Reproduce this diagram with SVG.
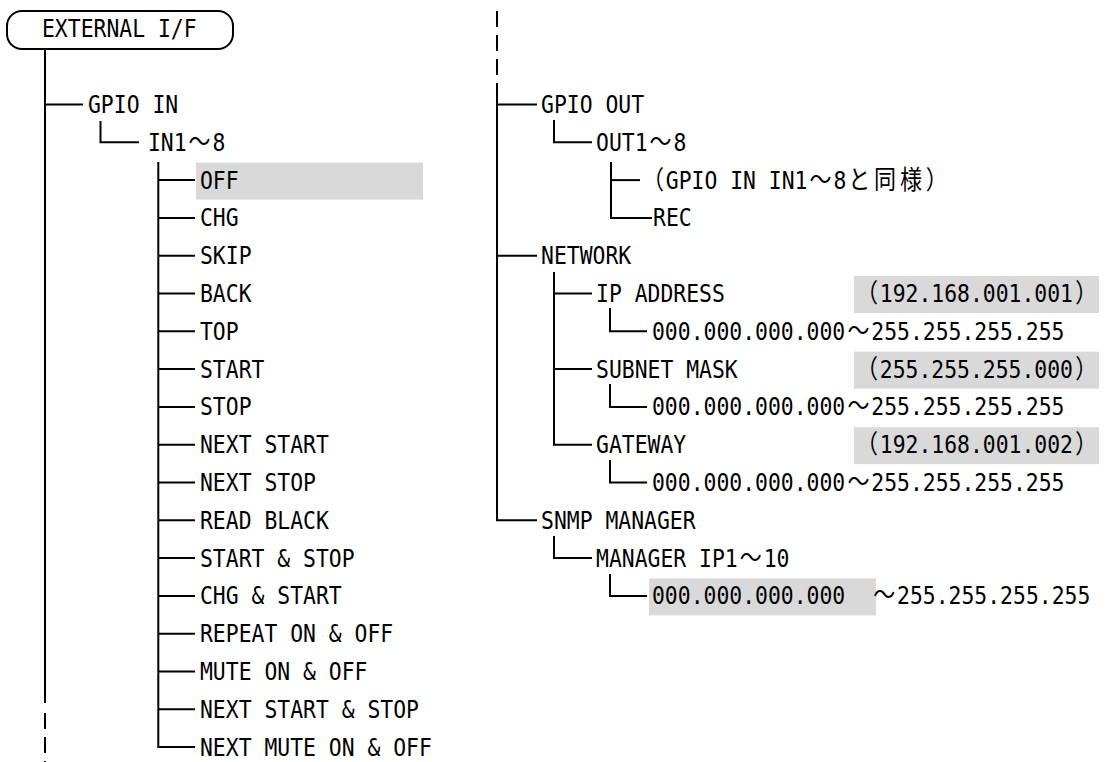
<svg xmlns="http://www.w3.org/2000/svg" width="1110" height="762" viewBox="0 0 1110 762">
<style>
.t{font-family:"DejaVu Sans Mono","Liberation Mono",monospace;font-size:21.4px;fill:#000}
.j{font-family:"Noto Sans CJK JP","Noto Sans CJK SC",sans-serif;font-size:22px}
.hl{fill:#d9d9d9}
.ln{stroke:#000;stroke-width:2;fill:none;stroke-linecap:butt;stroke-linejoin:miter}
.dash{stroke-dasharray:16 8}
.box{fill:#fff;stroke:#000;stroke-width:2}
</style>
<rect width="1110" height="762" fill="#fff"/>
<g id="connectors">
<path class="ln" d="M45 49V703"/>
<path class="ln dash" d="M45 713V762"/>
<path class="ln" d="M45 104.5H83"/>
<path class="ln" d="M100.5 121V142.3H139"/>
<path class="ln" d="M158.3 162V747.1H195"/>
<path class="ln" d="M158.3 180.1H195M158.3 217.9H195M158.3 255.7H195M158.3 293.5H195M158.3 331.3H195M158.3 369.1H195M158.3 406.9H195M158.3 444.7H195M158.3 482.5H195M158.3 520.3H195M158.3 558.1H195M158.3 595.9H195M158.3 633.7H195M158.3 671.5H195M158.3 709.3H195"/>
<path class="ln dash" d="M497 11V75"/>
<path class="ln" d="M497 83V520.3H537"/>
<path class="ln" d="M497 104.5H537M497 255.7H537"/>
<path class="ln" d="M554 120V142.3H592"/>
<path class="ln" d="M611 162V217.9H652"/>
<path class="ln" d="M611 180.1H640"/>
<path class="ln" d="M554 272V444.7H592"/>
<path class="ln" d="M554 293.5H592M554 369.1H592"/>
<path class="ln" d="M610 308V331.3H647"/>
<path class="ln" d="M610 384V406.9H647"/>
<path class="ln" d="M610 460V482.5H647"/>
<path class="ln" d="M554 536V558.1H592"/>
<path class="ln" d="M610 574V595.9H647"/>
</g>
<g id="external-if">
<rect class="box" x="7" y="11" width="226" height="38" rx="15"/>
<text class="t" x="42" transform="translate(0 37) scale(1 1.17)">EXTERNAL I/F</text>
</g>
<g id="gpio-in"><text class="t" x="88" transform="translate(0 113) scale(1 1.17)">GPIO IN</text></g>
<g id="in1-8"><text class="t" transform="translate(0 150.8) scale(1 1.17)"><tspan x="148">IN1</tspan><tspan class="j" x="188.6">～</tspan><tspan x="212.5">8</tspan></text></g>
<g id="off"><rect class="hl" x="196" y="162.6" width="227" height="37"/><text class="t" x="200" transform="translate(0 188.6) scale(1 1.17)">OFF</text></g>
<g id="chg"><text class="t" x="200" transform="translate(0 226.4) scale(1 1.17)">CHG</text></g>
<g id="skip"><text class="t" x="200" transform="translate(0 264.2) scale(1 1.17)">SKIP</text></g>
<g id="back"><text class="t" x="200" transform="translate(0 302) scale(1 1.17)">BACK</text></g>
<g id="top"><text class="t" x="200" transform="translate(0 339.8) scale(1 1.17)">TOP</text></g>
<g id="start"><text class="t" x="200" transform="translate(0 377.6) scale(1 1.17)">START</text></g>
<g id="stop"><text class="t" x="200" transform="translate(0 415.4) scale(1 1.17)">STOP</text></g>
<g id="next-start"><text class="t" x="200" transform="translate(0 453.2) scale(1 1.17)">NEXT START</text></g>
<g id="next-stop"><text class="t" x="200" transform="translate(0 491) scale(1 1.17)">NEXT STOP</text></g>
<g id="read-black"><text class="t" x="200" transform="translate(0 528.8) scale(1 1.17)">READ BLACK</text></g>
<g id="start-stop"><text class="t" x="200" transform="translate(0 566.6) scale(1 1.17)">START &amp; STOP</text></g>
<g id="chg-start"><text class="t" x="200" transform="translate(0 604.4) scale(1 1.17)">CHG &amp; START</text></g>
<g id="repeat"><text class="t" x="200" transform="translate(0 642.2) scale(1 1.17)">REPEAT ON &amp; OFF</text></g>
<g id="mute"><text class="t" x="200" transform="translate(0 680) scale(1 1.17)">MUTE ON &amp; OFF</text></g>
<g id="next-start-stop"><text class="t" x="200" transform="translate(0 717.8) scale(1 1.17)">NEXT START &amp; STOP</text></g>
<g id="next-mute"><text class="t" x="200" transform="translate(0 755.6) scale(1 1.17)">NEXT MUTE ON &amp; OFF</text></g>
<g id="gpio-out"><text class="t" x="541" transform="translate(0 113) scale(1 1.17)">GPIO OUT</text></g>
<g id="out1-8"><text class="t" transform="translate(0 150.8) scale(1 1.17)"><tspan x="596">OUT1</tspan><tspan class="j" x="649.5">～</tspan><tspan x="673.4">8</tspan></text></g>
<g id="same-as-in"><text class="t" transform="translate(0 188.6) scale(1 1.17)"><tspan class="j" x="641.9">（</tspan><tspan x="665.8">GPIO IN IN1</tspan><tspan class="j" x="809.6">～</tspan><tspan x="833.5">8</tspan><tspan class="j" x="848.3">と</tspan><tspan class="j" x="874.1">同</tspan><tspan class="j" x="899.9">様</tspan><tspan class="j" x="925.7">）</tspan></text></g>
<g id="rec"><text class="t" x="653" transform="translate(0 226.4) scale(1 1.17)">REC</text></g>
<g id="network"><text class="t" x="541" transform="translate(0 264.2) scale(1 1.17)">NETWORK</text></g>
<g id="ip-address"><rect class="hl" x="854" y="276" width="245" height="37"/><text class="t" transform="translate(0 302) scale(1 1.17)"><tspan x="596">IP ADDRESS</tspan><tspan class="j" x="855.9">（</tspan><tspan x="879.8">192.168.001.001</tspan><tspan class="j" x="1075.2">）</tspan></text></g>
<g id="ip-range"><text class="t" transform="translate(0 339.8) scale(1 1.17)"><tspan x="652">000.000.000.000</tspan><tspan class="j" x="847.4">～</tspan><tspan x="871.3">255.255.255.255</tspan></text></g>
<g id="subnet-mask"><rect class="hl" x="854" y="351.6" width="245" height="37"/><text class="t" transform="translate(0 377.6) scale(1 1.17)"><tspan x="596">SUBNET MASK</tspan><tspan class="j" x="855.9">（</tspan><tspan x="879.8">255.255.255.000</tspan><tspan class="j" x="1075.2">）</tspan></text></g>
<g id="subnet-range"><text class="t" transform="translate(0 415.4) scale(1 1.17)"><tspan x="652">000.000.000.000</tspan><tspan class="j" x="847.4">～</tspan><tspan x="871.3">255.255.255.255</tspan></text></g>
<g id="gateway"><rect class="hl" x="854" y="427.2" width="245" height="37"/><text class="t" transform="translate(0 453.2) scale(1 1.17)"><tspan x="596">GATEWAY</tspan><tspan class="j" x="855.9">（</tspan><tspan x="879.8">192.168.001.002</tspan><tspan class="j" x="1075.2">）</tspan></text></g>
<g id="gateway-range"><text class="t" transform="translate(0 491) scale(1 1.17)"><tspan x="652">000.000.000.000</tspan><tspan class="j" x="847.4">～</tspan><tspan x="871.3">255.255.255.255</tspan></text></g>
<g id="snmp-manager"><text class="t" x="541" transform="translate(0 528.8) scale(1 1.17)">SNMP MANAGER</text></g>
<g id="manager-ip"><text class="t" transform="translate(0 566.6) scale(1 1.17)"><tspan x="596">MANAGER IP1</tspan><tspan class="j" x="739.8">～</tspan><tspan x="763.7">10</tspan></text></g>
<g id="manager-range"><rect class="hl" x="649" y="578.4" width="227" height="37"/><text class="t" transform="translate(0 604.4) scale(1 1.17)"><tspan x="652">000.000.000.000</tspan><tspan class="j" x="873.2">～</tspan><tspan x="897.1">255.255.255.255</tspan></text></g>
</svg>
